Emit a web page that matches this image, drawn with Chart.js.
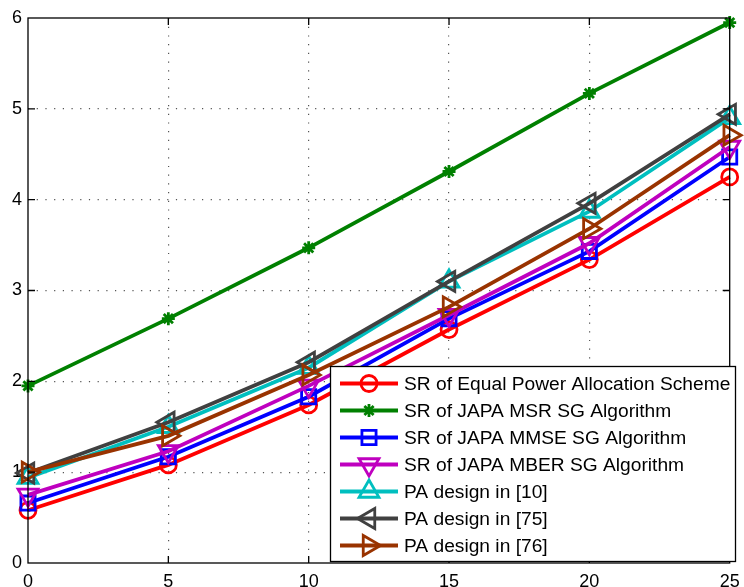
<!DOCTYPE html>
<html>
<head>
<meta charset="utf-8">
<script src="https://cdn.jsdelivr.net/npm/chart.js@4.4.1/dist/chart.umd.min.js"></script>
<style>
html,body{margin:0;padding:0;background:#fff;}
#wrap{width:744px;height:587px;position:relative;}
</style>
</head>
<body>
<div id="wrap"><canvas id="c" width="744" height="587"></canvas></div>
<script>
const xValues = [0, 5, 10, 15, 20, 25];
const equalPower = [0.58, 1.08, 1.74, 2.57, 3.34, 4.25];
const japaMSR = [1.95, 2.69, 3.47, 4.31, 5.17, 5.95];
const japaMMSE = [0.66, 1.17, 1.83, 2.69, 3.43, 4.47];
const japaMBER = [0.75, 1.23, 1.95, 2.73, 3.52, 4.58];
const pa10 = [0.94, 1.50, 2.15, 3.10, 3.87, 4.90];
const pa75 = [0.99, 1.55, 2.21, 3.10, 3.96, 4.94];
const pa76 = [1.00, 1.40, 2.07, 2.82, 3.68, 4.71];
const seriesLabels = [
  'SR of Equal Power Allocation Scheme',
  'SR of JAPA MSR SG Algorithm',
  'SR of JAPA MMSE SG Algorithm',
  'SR of JAPA MBER SG Algorithm',
  'PA design in [10]',
  'PA design in [75]',
  'PA design in [76]'
];
const xTicks = [0, 5, 10, 15, 20, 25];
const yTicks = [0, 1, 2, 3, 4, 5, 6];

const FONT = "'Liberation Sans', Arial, Helvetica, sans-serif";
const styles = [
  {color:'#ff0000', pointStyle:'circle', rotation:0, radius:8},
  {color:'#008000', pointStyle:'star', rotation:0, radius:6.5},
  {color:'#0000ff', pointStyle:'rect', rotation:0, radius:10},
  {color:'#bf00bf', pointStyle:'triangle', rotation:180, radius:11.5},
  {color:'#00bfbf', pointStyle:'triangle', rotation:0, radius:11.5},
  {color:'#404040', pointStyle:'triangle', rotation:270, radius:11.5},
  {color:'#993300', pointStyle:'triangle', rotation:90, radius:11.5}
];
const allSeries = [equalPower, japaMSR, japaMMSE, japaMBER, pa10, pa75, pa76];

const datasets = allSeries.map((vals, i) => ({
  label: seriesLabels[i],
  data: xValues.map((x, j) => ({x: x, y: vals[j]})),
  borderColor: styles[i].color,
  backgroundColor: 'rgba(0,0,0,0)',
  borderWidth: 3.8,
  pointStyle: styles[i].pointStyle,
  pointRotation: styles[i].rotation,
  pointRadius: styles[i].radius,
  pointBorderWidth: 2.8,
  pointBorderColor: styles[i].color,
  pointBackgroundColor: 'rgba(0,0,0,0)',
  tension: 0,
  clip: false,
  order: 10 - i
}));

const boxPlugin = {
  id: 'boxPlugin',
  afterDatasetsDraw(chart) {
    const {ctx, chartArea: a, scales} = chart;
    ctx.save();
    ctx.strokeStyle = '#000';
    ctx.lineWidth = 1.3;
    ctx.strokeRect(a.left, a.top, a.right - a.left, a.bottom - a.top);
    const tl = 7;
    ctx.beginPath();
    xTicks.forEach(v => {
      if (v === 0 || v === 25) return;
      const px = scales.x.getPixelForValue(v);
      ctx.moveTo(px, a.bottom); ctx.lineTo(px, a.bottom - tl);
      ctx.moveTo(px, a.top); ctx.lineTo(px, a.top + tl);
    });
    yTicks.forEach(v => {
      if (v === 0 || v === 6) return;
      const py = scales.y.getPixelForValue(v);
      ctx.moveTo(a.left, py); ctx.lineTo(a.left + tl, py);
      ctx.moveTo(a.right, py); ctx.lineTo(a.right - tl, py);
    });
    ctx.stroke();
    ctx.restore();
  }
};

function fallbackPoint(ctx, o, x, y) {
  ctx.beginPath();
  ctx.arc(x, y, o.radius, 0, Math.PI * 2);
  ctx.stroke();
}

const legendPlugin = {
  id: 'matLegend',
  afterDraw(chart) {
    const ctx = chart.ctx;
    const L = 330.5, T = 366.5, R = 735.5, B = 561.5;
    ctx.save();
    ctx.fillStyle = '#fff';
    ctx.fillRect(L, T, R - L, B - T);
    ctx.strokeStyle = '#000';
    ctx.lineWidth = 1.3;
    ctx.strokeRect(L, T, R - L, B - T);
    const dp = (Chart.helpers && Chart.helpers.drawPoint) ? Chart.helpers.drawPoint : fallbackPoint;
    seriesLabels.forEach((lab, i) => {
      const y = 383.5 + i * 27;
      const s = styles[i];
      ctx.strokeStyle = s.color;
      ctx.lineWidth = 3.8;
      ctx.beginPath();
      ctx.moveTo(340, y); ctx.lineTo(398, y);
      ctx.stroke();
      ctx.strokeStyle = s.color;
      ctx.fillStyle = 'rgba(0,0,0,0)';
      ctx.lineWidth = 2.8;
      dp(ctx, {pointStyle: s.pointStyle, rotation: s.rotation, radius: s.radius, borderWidth: 2.8}, 369, y);
      ctx.fillStyle = '#000';
      ctx.font = '19.2px ' + FONT;
      ctx.textBaseline = 'middle';
      ctx.textAlign = 'left';
      ctx.fillText(lab, 404, y + 1);
    });
    ctx.restore();
  }
};

const gridColor = (maxV) => (c) => {
  const v = c.tick ? c.tick.value : null;
  return (v === 0 || v === maxV) ? 'rgba(0,0,0,0)' : '#555';
};

new Chart(document.getElementById('c'), {
  type: 'line',
  data: {datasets: datasets},
  options: {
    responsive: false,
    animation: false,
    events: [],
    layout: {padding: {top: 18, right: 13, left: 0, bottom: 0}},
    plugins: {legend: {display: false}, tooltip: {enabled: false}},
    scales: {
      x: {
        type: 'linear', min: 0, max: 25,
        afterBuildTicks(s) { s.ticks = xTicks.map(v => ({value: v})); },
        afterFit(s) { s.height = 24; s.paddingLeft = 0; s.paddingRight = 0; },
        ticks: {color: '#000', font: {size: 18, family: FONT}, padding: 8, maxRotation: 0, autoSkip: false},
        grid: {color: gridColor(25), lineWidth: 1.2, drawTicks: false},
        border: {display: false, dash: [1.2, 7.5]}
      },
      y: {
        type: 'linear', min: 0, max: 6,
        afterBuildTicks(s) { s.ticks = yTicks.map(v => ({value: v})); },
        afterFit(s) { s.width = 28; s.paddingTop = 0; s.paddingBottom = 0; },
        ticks: {color: '#000', font: {size: 18, family: FONT}, padding: 6},
        grid: {color: gridColor(6), lineWidth: 1.2, drawTicks: false},
        border: {display: false, dash: [1.2, 7.5]}
      }
    }
  },
  plugins: [boxPlugin, legendPlugin]
});
</script>
</body>
</html>
